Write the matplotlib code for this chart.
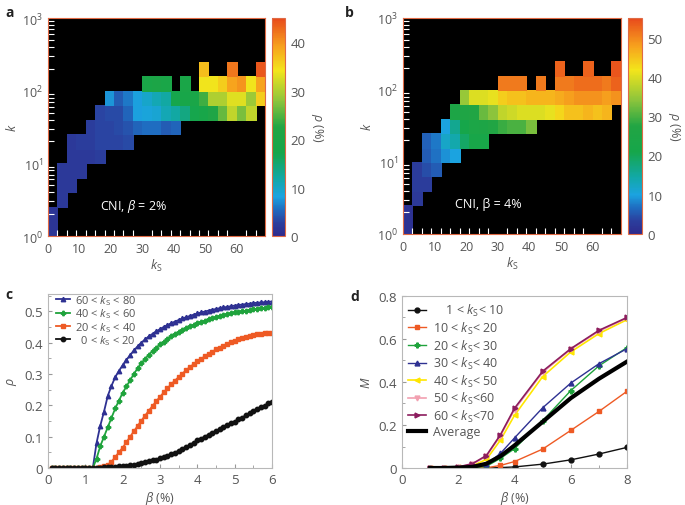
import numpy as np
import matplotlib
matplotlib.use("Agg")
import matplotlib.pyplot as plt
from matplotlib.colors import LinearSegmentedColormap
from matplotlib.ticker import MultipleLocator, FixedLocator

plt.rcParams["font.family"] = ["Open Sans", "DejaVu Sans"]
plt.rcParams["mathtext.fontset"] = "custom"
plt.rcParams["mathtext.rm"] = "Open Sans"
plt.rcParams["mathtext.it"] = "Open Sans:italic"
plt.rcParams["font.size"] = 9

n = np.nan
GREY = "#555555"
FRAME = "#e06a45"

# heat maps: bins of k_S (width 3, 0..69) and k (0.2 decade, 10^0..10^3)
ks_edges = np.arange(0, 70, 3)
k_edges = 10 ** np.linspace(0, 3, 16)

# one entry per k bin (from k = 1 upwards): (first k_S bin, values in %)
rho_a_rows = [
    (0, [1.5]),
    (0, [1.5]),
    (1, [2]),
    (1, [2, 2]),
    (1, [2, 2, 2]),
    (2, [2, 2, 2, 2.5]),
    (2, [2, 2.5, 2.5, 3, 3, 3, 3.5]),
    (4, [2.5, 3, 3, 3.5, 4, 5, 5.5, 5.5, 4.5, 5]),
    (5, [3, 3.5, 3.5, 5, 8, 8.5, 9, 11, 12, 14, 17, 18, 21, 26, 31, 27, 31]),
    (6, [7.5, 4.5, 6, 8, 9.5, 11, 12, 17, 18, 19, 24, 30, 30, 33, 33, 29, 36]),
    (10, [19, 20, 19, n, 19, n, 34, 34, 36, 39, 40, 34, 39]),
    (16, [37, n, n, 42, n, n, 44]),
]
rho_b_rows = [
    (0, [1.5]),
    (0, [1.5]),
    (1, [2.5]),
    (1, [3, 3]),
    (1, [3, 4.5, 5.5]),
    (2, [5.5, 7, 9, 10]),
    (2, [6, 7.5, 12, 14, 19, 22, 22]),
    (4, [10, 16, 21, 24, 25, 27, 29, 30, 30, 33]),
    (5, [25, 26, 27, 32, 34, 38, 39, 40, 40, 40, 41, 43, 45, 45, 46, 45, 46]),
    (6, [35, 40, 40, 41, 44, 45, 45, 46, 46, 46, 47, 48, 49, 49, 49, 48, 49]),
    (10, [51, 51, 51, n, 51, n, 51, 51, 52, 52, 52, 51, 53]),
    (16, [53, n, n, 53, n, n, 54]),
]

# panel c
beta_c = np.round(np.arange(1, 61) * 0.1, 1)
zeros12 = [0.0] * 12
rho_60_80 = zeros12 + [
    0.08, 0.135, 0.18, 0.23, 0.262, 0.29, 0.31, 0.328, 0.345, 0.36,
    0.375, 0.388, 0.40, 0.41, 0.42, 0.428, 0.436, 0.443, 0.45, 0.456,
    0.462, 0.467, 0.472, 0.477, 0.481, 0.485, 0.489, 0.493, 0.496, 0.499,
    0.502, 0.505, 0.507, 0.51, 0.512, 0.514, 0.516, 0.518, 0.52, 0.521,
    0.523, 0.524, 0.526, 0.527, 0.528, 0.529, 0.53, 0.531]
rho_40_60 = zeros12 + [
    0.03, 0.07, 0.10, 0.13, 0.16, 0.19, 0.215, 0.24, 0.26, 0.28,
    0.30, 0.318, 0.334, 0.348, 0.361, 0.373, 0.384, 0.394, 0.403, 0.412,
    0.42, 0.427, 0.434, 0.44, 0.446, 0.452, 0.457, 0.462, 0.466, 0.47,
    0.474, 0.478, 0.481, 0.485, 0.488, 0.491, 0.493, 0.496, 0.498, 0.5,
    0.502, 0.504, 0.506, 0.508, 0.51, 0.511, 0.513, 0.514]
rho_20_40 = zeros12 + [
    0.0, 0.002, 0.005, 0.01, 0.02, 0.035, 0.05, 0.065, 0.082, 0.10,
    0.117, 0.134, 0.151, 0.167, 0.183, 0.198, 0.213, 0.227, 0.241, 0.254,
    0.267, 0.279, 0.29, 0.301, 0.312, 0.322, 0.331, 0.34, 0.348, 0.356,
    0.364, 0.371, 0.378, 0.384, 0.39, 0.396, 0.401, 0.406, 0.41, 0.414,
    0.418, 0.421, 0.424, 0.426, 0.428, 0.43, 0.431, 0.432]
rho_0_20 = zeros12 + [
    0.001, 0.001, 0.002, 0.002, 0.003, 0.004, 0.005, 0.006, 0.007, 0.009,
    0.011, 0.013, 0.015, 0.018, 0.021, 0.024, 0.027, 0.031, 0.035, 0.039,
    0.044, 0.049, 0.055, 0.061, 0.067, 0.074, 0.081, 0.088, 0.094, 0.1,
    0.106, 0.112, 0.118, 0.124, 0.13, 0.136, 0.142, 0.148, 0.155, 0.161,
    0.168, 0.174, 0.181, 0.187, 0.193, 0.199, 0.206, 0.212]

# panel d
beta_d = [1, 1.5, 2, 2.5, 3, 3.5, 4, 5, 6, 7, 8]
M_1_10 = [0, 0, 0, 0, 0, 0.002, 0.005, 0.018, 0.038, 0.065, 0.096]
M_10_20 = [0, 0, 0, 0, 0.001, 0.012, 0.03, 0.088, 0.175, 0.263, 0.357]
M_20_30 = [0, 0, 0, 0.002, 0.008, 0.045, 0.09, 0.22, 0.36, 0.475, 0.56]
M_30_40 = [0, 0, 0, 0.003, 0.018, 0.068, 0.14, 0.28, 0.395, 0.485, 0.555]
M_40_50 = [0, 0, 0.003, 0.01, 0.04, 0.13, 0.245, 0.425, 0.54, 0.625, 0.69]
M_50_60 = [0, 0, 0.004, 0.018, 0.055, 0.15, 0.272, 0.445, 0.552, 0.636, 0.697]
M_60_70 = [0, 0.001, 0.005, 0.02, 0.058, 0.155, 0.278, 0.45, 0.555, 0.64, 0.70]
M_avg = [0, 0, 0.002, 0.005, 0.02, 0.055, 0.105, 0.215, 0.325, 0.415, 0.495]

cmap = LinearSegmentedColormap.from_list("rho", list(zip(
    [0, 0.06, 0.12, 0.18, 0.26, 0.38, 0.5, 0.62, 0.76, 0.87, 1.0],
    ["#2e2a8c", "#2b3f9e", "#1f6cc0", "#1ba3e0", "#12a8a8", "#16a64a",
     "#22a544", "#8cc43c", "#f3e51b", "#f7a21d", "#e84a1c"])))


def heatmap(ax, cax, rows, vmax, cticks, note):
    grid = np.full((len(k_edges) - 1, len(ks_edges) - 1), np.nan)
    for i, (start, vals) in enumerate(rows):
        grid[i, start:start + len(vals)] = vals
    ax.set_facecolor("black")
    mesh = ax.pcolormesh(ks_edges, k_edges, np.ma.masked_invalid(grid),
                         cmap=cmap, vmin=0, vmax=vmax,
                         edgecolors="face", linewidth=0.4, antialiased=False)
    ax.set_yscale("log")
    ax.set_xlim(0, 69)
    ax.set_ylim(1, 1000)
    ax.xaxis.set_major_locator(FixedLocator(range(0, 61, 10)))
    ax.xaxis.set_minor_locator(FixedLocator(ks_edges[1:-1]))
    ax.tick_params(axis="x", which="major", length=0, colors=GREY, pad=4)
    ax.tick_params(axis="x", which="minor", direction="in", length=4,
                   color="white", width=0.8)
    ax.tick_params(axis="y", which="both", direction="in", color="white",
                   labelcolor=GREY, width=0.8)
    ax.tick_params(axis="y", which="major", length=0)
    ax.tick_params(axis="y", which="minor", length=4)
    for s in ax.spines.values():
        s.set_color(FRAME)
        s.set_linewidth(0.8)
    ax.set_xlabel("$k_\\mathrm{S}$", color=GREY, labelpad=2)
    ax.set_ylabel("$k$", color=GREY, labelpad=2)
    ax.text(0.24, 0.14, note, transform=ax.transAxes, color="white",
            fontsize=9, va="center")
    cb = plt.colorbar(mesh, cax=cax, ticks=cticks)
    cb.outline.set_edgecolor(FRAME)
    cb.outline.set_linewidth(0.8)
    cax.tick_params(length=0, colors=GREY, labelsize=9.5, pad=4)
    cb.set_label("$\\rho$ (%)", rotation=270, color=GREY, labelpad=14)


def style(ax):
    for s in ax.spines.values():
        s.set_color("#b8b8b8")
        s.set_linewidth(0.8)
    ax.tick_params(which="both", direction="in", color="#999999",
                   labelcolor=GREY, labelsize=9.5)
    ax.tick_params(which="major", length=3)
    ax.tick_params(which="minor", length=2)


fig = plt.figure(figsize=(6.85, 5.06), dpi=100)

ax_a = fig.add_axes([0.0701, 0.5316, 0.3168, 0.4308])
cax_a = fig.add_axes([0.3971, 0.5316, 0.019, 0.4308])
heatmap(ax_a, cax_a, rho_a_rows, 45, [0, 10, 20, 30, 40],
        "CNI, $\\beta$ = 2%")

ax_b = fig.add_axes([0.5883, 0.5356, 0.3182, 0.4269])
cax_b = fig.add_axes([0.9168, 0.5356, 0.0204, 0.4269])
heatmap(ax_b, cax_b, rho_b_rows, 55, [0, 10, 20, 30, 40, 50],
        "CNI, \u03b2 = 4%")

# panel c
ax_c = fig.add_axes([0.0701, 0.0731, 0.327, 0.3439])
ms = 3.2
ax_c.plot(beta_c, rho_60_80, "-^", color="#2e3192", ms=ms, lw=1.3,
          label="60 < $k_\\mathrm{S}$ < 80")
ax_c.plot(beta_c, rho_40_60, "-P", color="#1fa33c", ms=ms, lw=1.3,
          label="40 < $k_\\mathrm{S}$ < 60")
ax_c.plot(beta_c, rho_20_40, "-s", color="#ee5a24", ms=2.6, lw=1.3,
          label="20 < $k_\\mathrm{S}$ < 40")
ax_c.plot(beta_c, rho_0_20, "-o", color="#111111", ms=ms, lw=1.3,
          label="  0 < $k_\\mathrm{S}$ < 20")
ax_c.set_xlim(0, 6)
ax_c.set_ylim(0, 0.555)
ax_c.xaxis.set_major_locator(MultipleLocator(1))
ax_c.xaxis.set_minor_locator(MultipleLocator(0.5))
ax_c.yaxis.set_minor_locator(MultipleLocator(0.05))
ax_c.set_yticks([0, 0.1, 0.2, 0.3, 0.4, 0.5], ["0", "0.1", "0.2", "0.3", "0.4", "0.5"])
style(ax_c)
ax_c.set_xlabel("$\\beta$ (%)", color=GREY, labelpad=2)
ax_c.set_ylabel("$\\rho$", color=GREY, labelpad=4)
ax_c.legend(loc="upper left", bbox_to_anchor=(0.03, 1.01), frameon=False,
            fontsize=8, handlelength=1.3, handletextpad=0.4,
            labelspacing=-0.05, borderaxespad=0.0, labelcolor=GREY,
            borderpad=0.1)

# panel d
ax_d = fig.add_axes([0.5869, 0.0731, 0.3285, 0.34])
md = 3.5
ax_d.plot(beta_d, M_1_10, "-o", color="#111111", ms=md, lw=1,
          label="    1 < $k_\\mathrm{S}$< 10")
ax_d.plot(beta_d, M_10_20, "-s", color="#ee5a24", ms=md, lw=1,
          label="10 < $k_\\mathrm{S}$< 20")
ax_d.plot(beta_d, M_20_30, "-P", color="#1fa33c", ms=md, lw=1,
          label="20 < $k_\\mathrm{S}$< 30")
ax_d.plot(beta_d, M_30_40, "-^", color="#2e3192", ms=md, lw=1,
          label="30 < $k_\\mathrm{S}$< 40")
ax_d.plot(beta_d, M_40_50, "-<", color="#ffe600", ms=md, lw=1.2,
          label="40 < $k_\\mathrm{S}$< 50")
ax_d.plot(beta_d, M_50_60, "-v", color="#f2a0b0", ms=md, lw=1.2,
          label="50 < $k_\\mathrm{S}$<60")
ax_d.plot(beta_d, M_60_70, "->", color="#8c1d5e", ms=md, lw=1.2,
          label="60 < $k_\\mathrm{S}$<70")
ax_d.plot(beta_d, M_avg, "-", color="black", lw=3, label="Average")
ax_d.set_xlim(0, 8)
ax_d.set_ylim(0, 0.8)
ax_d.xaxis.set_major_locator(MultipleLocator(2))
ax_d.xaxis.set_minor_locator(MultipleLocator(1))
ax_d.yaxis.set_minor_locator(MultipleLocator(0.1))
ax_d.set_yticks([0, 0.2, 0.4, 0.6, 0.8], ["0", "0.2", "0.4", "0.6", "0.8"])
style(ax_d)
ax_d.set_xlabel("$\\beta$ (%)", color=GREY, labelpad=2)
ax_d.set_ylabel("$M$", color=GREY, labelpad=4)
ax_d.legend(loc="upper left", frameon=False, fontsize=9, handlelength=1.4,
            handletextpad=0.6, labelspacing=0.12, borderaxespad=0.3,
            labelcolor=GREY, borderpad=0.2)

for lab, x, y in [("a", 0.008, 0.975), ("b", 0.503, 0.975),
                  ("c", 0.008, 0.417), ("d", 0.512, 0.413)]:
    fig.text(x, y, lab, fontweight="bold", fontsize=10, color="#222222",
             ha="left", va="center")

fig.savefig("out.png", dpi=100)
